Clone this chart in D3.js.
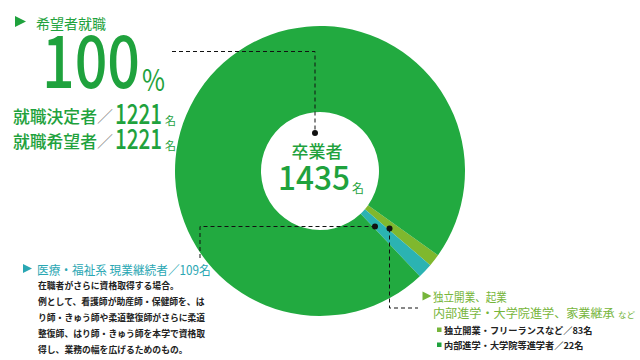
<!DOCTYPE html>
<html><head><meta charset="utf-8">
<script src="https://cdn.jsdelivr.net/npm/d3@7"></script>
<style>
html,body{margin:0;padding:0;background:#fff;}
svg{display:block;}
text{font-family:"Noto Sans CJK JP","Noto Sans",sans-serif;}
</style></head>
<body>
<svg id="chart" width="640" height="360"></svg>
<script>
// ---- data ----
const total = 1435;                       // 卒業者
const categories = ["希望者就職", "医療・福祉系 現業継続者", "独立開業・フリーランスなど", "内部進学・大学院等進学者"];
const counts = [1221, 109, 83, 22];
const employRate = 100;                   // %
const jobDecided = 1221, jobWanted = 1221;
// slices as drawn in the picture (share of the circle, in degrees)
const sliceNames = ["内部進学・独立開業", "医療・福祉系", "希望者就職"];
const sliceDegrees = [5, 6, 349];
const bodyLines = [
  "在職者がさらに資格取得する場合。",
  "例として、看護師が助産師・保健師を、は",
  "り師・きゅう師や柔道整復師がさらに柔道",
  "整復師、はり師・きゅう師を本学で資格取",
  "得し、業務の幅を広げるためのもの。"
];

const GREEN = "#22aa40", OLIVE = "#7fb82e", TEAL = "#2bb3b2";
const TXT_GREEN = "#1fa23d", TXT_TEAL = "#2aa7b3", TXT_OLIVE = "#76b53a";
const sliceColors = [OLIVE, TEAL, GREEN];

const svg = d3.select("#chart");
const cx = 320, cy = 171, R = 145, r0 = 59;

const startDeg = 125.5;
const pie = d3.pie().sort(null).value(d => d)
  .startAngle(startDeg * Math.PI / 180)
  .endAngle((startDeg + 360) * Math.PI / 180);
const arc = d3.arc().innerRadius(r0).outerRadius(R);
const g = svg.append("g").attr("transform", `translate(${cx},${cy})`);
g.selectAll("path").data(pie(sliceDegrees)).join("path")
  .attr("d", arc).attr("fill", (d, i) => sliceColors[i]);

// ---- leader lines ----
const dash = "4,3";
function lead(points) {
  svg.append("path").attr("d", d3.line()(points))
    .attr("fill", "none").attr("stroke", "#111").attr("stroke-width", 1)
    .attr("stroke-dasharray", dash);
}
lead([[172, 51.5], [315, 51.5], [315, 133]]);
lead([[200, 258], [200, 226.5], [375, 226.5]]);
lead([[389.5, 228.5], [389.5, 308], [418, 308]]);
[[315, 133], [375, 226.5], [389.5, 228.5]].forEach(p =>
  svg.append("circle").attr("cx", p[0]).attr("cy", p[1]).attr("r", 3).attr("fill", "#111"));

// helper: text squeezed horizontally to a given width (via transform so boxes stay true)
function fitText(str, x, y, size, width, opts = {}) {
  const t = svg.append("text").attr("x", 0).attr("y", 0).attr("font-size", size)
    .attr("font-weight", opts.weight || 400).attr("fill", opts.fill || TXT_GREEN)
    .attr("dominant-baseline", opts.baseline || "auto").text(str);
  const len = t.node().getComputedTextLength();
  t.attr("transform", `translate(${x},${y}) scale(${width / len},1)`);
  return t;
}

// ---- top-left block ----
function tri(x, y, w, h, col) {
  svg.append("path").attr("d", `M${x},${y}L${x + w},${y + h / 2}L${x},${y + h}Z`).attr("fill", col);
}
tri(15, 16, 11, 11, TXT_GREEN);
svg.append("text").attr("x", 36).attr("y", 22.5).attr("dominant-baseline", "central")
  .attr("font-size", 14).attr("fill", TXT_GREEN).text(categories[0]);
fitText(String(employRate), 42, 88.3, 72, 98, { weight: 500 });
fitText("%", 142, 90.5, 30, 23);

function countLine(label, value, yc) {
  fitText(label, 13, yc, 17, 84, { weight: 500, baseline: "central" });
  svg.append("text").attr("x", 97).attr("y", yc).attr("dominant-baseline", "central")
    .attr("font-size", 16).attr("font-weight", 300).attr("fill", "#8a8a8a").text("／");
  fitText(String(value), 115, yc + 9, 28, 47, { weight: 500 });
  svg.append("text").attr("x", 165).attr("y", yc + 5).attr("dominant-baseline", "central")
    .attr("font-size", 11).attr("fill", TXT_GREEN).text("名");
}
countLine("就職決定者", jobDecided, 115);
countLine("就職希望者", jobWanted, 140);

// ---- centre ----
svg.append("text").attr("x", 317).attr("y", 150).attr("text-anchor", "middle").attr("dominant-baseline", "central")
  .attr("font-size", 17).attr("font-weight", 500).attr("fill", TXT_GREEN).text("卒業者");
fitText(String(total), 278, 190, 33, 72, { weight: 500 });
svg.append("text").attr("x", 352).attr("y", 187).attr("dominant-baseline", "central")
  .attr("font-size", 12).attr("fill", TXT_GREEN).text("名");

// ---- left-bottom label ----
tri(23, 264, 9, 9, TXT_TEAL);
fitText(`${categories[1]}／${counts[1]}名`, 37, 269, 12.5, 174, { fill: TXT_TEAL, baseline: "central" });
bodyLines.forEach((t, i) =>
  svg.append("text").attr("x", 38).attr("y", 285 + i * 16).attr("dominant-baseline", "central")
    .attr("font-size", 8.8).attr("font-weight", 700).attr("fill", "#222").text(t));

// ---- right-bottom label ----
tri(422.5, 291.5, 9, 9, TXT_OLIVE);
fitText("独立開業、起業", 433, 297, 12, 74, { fill: TXT_OLIVE, baseline: "central" });
fitText("内部進学・大学院進学、家業継承", 433, 313, 12, 182, { fill: TXT_OLIVE, baseline: "central" });
svg.append("text").attr("x", 618).attr("y", 314).attr("dominant-baseline", "central")
  .attr("font-size", 8.5).attr("fill", TXT_OLIVE).text("など");
[[categories[2], counts[2], 330], [categories[3], counts[3], 345]].forEach((d, i) => {
  svg.append("rect").attr("x", 437).attr("y", d[2] - 2.5).attr("width", 4.5).attr("height", 4.5)
    .attr("fill", i === 0 ? TXT_OLIVE : TXT_GREEN);
  svg.append("text").attr("x", 444).attr("y", d[2]).attr("dominant-baseline", "central")
    .attr("font-size", 9.2).attr("font-weight", 700).attr("fill", "#222").text(`${d[0]}／${d[1]}名`);
});
</script>
</body></html>
